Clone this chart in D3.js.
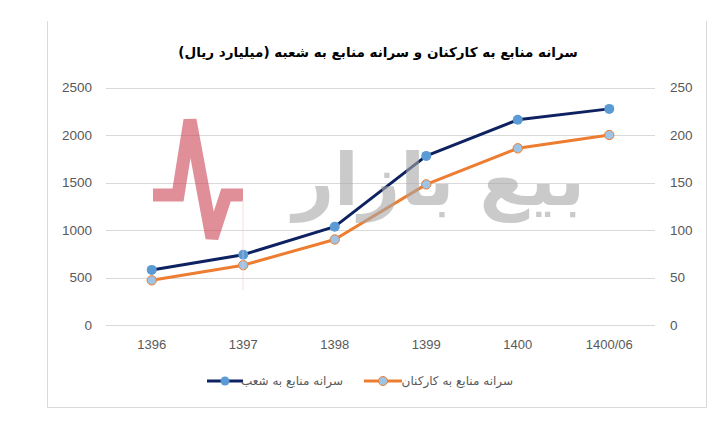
<!DOCTYPE html>
<html><head><meta charset="utf-8">
<script src="https://cdn.jsdelivr.net/npm/d3@7"></script>
<style>body{margin:0;background:#fff}svg{display:block}</style>
</head><body>
<script>
const categories = ["1396","1397","1398","1399","1400","1400/06"];
const branchValues = [580, 740, 1035, 1780, 2160, 2275];   // left axis
const staffValues = [47, 63, 90, 148, 186, 200];           // right axis
const leftTicks = [0,500,1000,1500,2000,2500];
const rightTicks = [0,50,100,150,200,250];
const title = "سرانه منابع به کارکنان و سرانه منابع به شعبه (میلیارد ریال)";
const seriesNames = ["سرانه منابع به شعب","سرانه منابع به کارکنان"];

const W=727,H=435;
const svg=d3.select("body").append("svg").attr("width",W).attr("height",H);

// frame
svg.append("path").attr("d",`M47.5,21 V407.5 H706.5 V21`).attr("fill","none").attr("stroke","#d9d9d9").attr("stroke-width",1);

const x=d3.scaleBand().domain(categories).range([106,655]);
const yL=d3.scaleLinear().domain([0,2500]).range([325,87.5]);
const yR=d3.scaleLinear().domain([0,250]).range([325,87.5]);

// gridlines
svg.append("g").selectAll("line").data(leftTicks).join("line")
 .attr("x1",106).attr("x2",655).attr("y1",d=>Math.round(yL(d))+0.5).attr("y2",d=>Math.round(yL(d))+0.5)
 .attr("stroke","#d9d9d9").attr("stroke-width",1);

const axL=svg.append("g").attr("transform","translate(100,0)").call(d3.axisLeft(yL).tickValues(leftTicks).tickFormat(d3.format("d")).tickSize(0).tickPadding(8));
const axR=svg.append("g").attr("transform","translate(662,0)").call(d3.axisRight(yR).tickValues(rightTicks).tickFormat(d3.format("d")).tickSize(0).tickPadding(8));
const axB=svg.append("g").attr("transform","translate(0,335)").call(d3.axisBottom(x).tickSize(0).tickPadding(5));
[axL,axR,axB].forEach(g=>{g.select(".domain").remove();g.selectAll("text").attr("fill","#595959").style("font-family","Liberation Sans, Arial, sans-serif").style("font-size","13.5px");});
axB.selectAll("text").style("font-size","13px");

const cx=d=>x(d)+x.bandwidth()/2;
const lineL=d3.line().x((d,i)=>cx(categories[i])).y(d=>yL(d));
const lineR=d3.line().x((d,i)=>cx(categories[i])).y(d=>yR(d));

svg.append("path").attr("d",lineR(staffValues)).attr("fill","none").attr("stroke","#ed7d31").attr("stroke-width",3).attr("stroke-linejoin","round");
svg.append("path").attr("d",lineL(branchValues)).attr("fill","none").attr("stroke","#0e2160").attr("stroke-width",3).attr("stroke-linejoin","round");
svg.append("g").selectAll("circle").data(staffValues).join("circle")
 .attr("cx",(d,i)=>cx(categories[i])).attr("cy",d=>yR(d)).attr("r",4.7).attr("fill","#9dc3e6").attr("stroke","#ed7d31").attr("stroke-width",1);
svg.append("g").selectAll("circle").data(branchValues).join("circle")
 .attr("cx",(d,i)=>cx(categories[i])).attr("cy",d=>yL(d)).attr("r",5).attr("fill","#5b9bd5");

// watermark (decorative)
const wm=svg.append("g").attr("opacity",0.6);
wm.append("path").attr("d","M153,195 H178 L190,120 L212,238 L226,195 H243")
 .attr("fill","none").attr("stroke","#cc4455").attr("stroke-width",13).attr("stroke-linejoin","miter");
wm.append("line").attr("x1",243).attr("x2",243).attr("y1",200).attr("y2",290).attr("stroke","#f0c8cc").attr("stroke-width",1);
wm.append("text").attr("x",585).attr("y",205).attr("text-anchor","end")
 .style("font-family","DejaVu Sans").style("font-weight","bold").style("font-size","72px")
 .attr("fill","#a8a8a8").text("بیع بازار");

// title
svg.append("text").attr("x",378).attr("y",57).attr("text-anchor","middle")
 .style("font-family","DejaVu Sans").style("font-weight","bold").style("font-size","13.5px").attr("fill","#000").text(title);

// legend
const lg=svg.append("g");
const items=[{x1:207,x2:243,col:"#0e2160",fill:"#5b9bd5",stroke:"none",name:seriesNames[0],tx:343},
             {x1:364,x2:402,col:"#ed7d31",fill:"#9dc3e6",stroke:"#ed7d31",name:seriesNames[1],tx:513}];
items.forEach(it=>{
 lg.append("line").attr("x1",it.x1).attr("x2",it.x2).attr("y1",381).attr("y2",381).attr("stroke",it.col).attr("stroke-width",3);
 lg.append("circle").attr("cx",(it.x1+it.x2)/2).attr("cy",381).attr("r",4.5).attr("fill",it.fill).attr("stroke",it.stroke).attr("stroke-width",1);
 lg.append("text").attr("x",it.tx).attr("y",385).attr("text-anchor","end")
  .style("font-family","DejaVu Sans").style("font-size","12px").attr("fill","#595959").text(it.name);
});
</script>
</body></html>
